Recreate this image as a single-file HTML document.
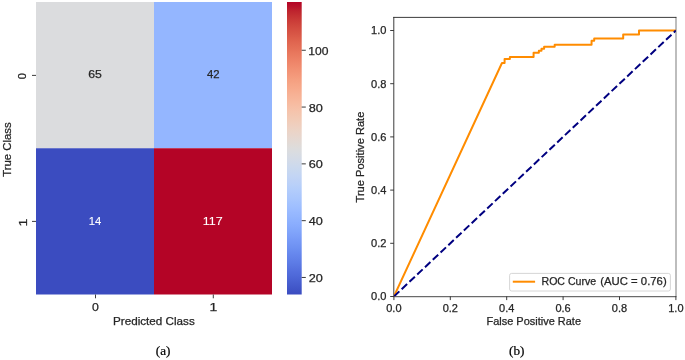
<!DOCTYPE html>
<html><head><meta charset="utf-8"><title>Confusion matrix and ROC curve</title><style>
html,body{margin:0;padding:0;background:#fff;}
body{width:685px;height:360px;overflow:hidden;}
svg{display:block;will-change:transform;}
text{fill:#262626;stroke:#262626;stroke-width:0.25px;}
.w{fill:#fff;stroke:#fff;}
.k{fill:#000;stroke:#000;stroke-width:0.15px;}
</style></head><body>
<svg width="685" height="360" viewBox="0 0 685 360">
<defs>
<linearGradient id="cb" x1="0" y1="1" x2="0" y2="0">
<stop offset="0.0000" stop-color="#3b4cc0"/>
<stop offset="0.0156" stop-color="#3f53c6"/>
<stop offset="0.0312" stop-color="#445acc"/>
<stop offset="0.0469" stop-color="#4961d2"/>
<stop offset="0.0625" stop-color="#4e68d8"/>
<stop offset="0.0781" stop-color="#536edd"/>
<stop offset="0.0938" stop-color="#5875e1"/>
<stop offset="0.1094" stop-color="#5d7ce6"/>
<stop offset="0.1250" stop-color="#6282ea"/>
<stop offset="0.1406" stop-color="#6788ee"/>
<stop offset="0.1562" stop-color="#6c8ff1"/>
<stop offset="0.1719" stop-color="#7295f4"/>
<stop offset="0.1875" stop-color="#779af7"/>
<stop offset="0.2031" stop-color="#7da0f9"/>
<stop offset="0.2188" stop-color="#82a6fb"/>
<stop offset="0.2344" stop-color="#88abfd"/>
<stop offset="0.2500" stop-color="#8db0fe"/>
<stop offset="0.2656" stop-color="#93b5fe"/>
<stop offset="0.2812" stop-color="#98b9ff"/>
<stop offset="0.2969" stop-color="#9ebeff"/>
<stop offset="0.3125" stop-color="#a3c2fe"/>
<stop offset="0.3281" stop-color="#a9c6fd"/>
<stop offset="0.3438" stop-color="#aec9fc"/>
<stop offset="0.3594" stop-color="#b3cdfb"/>
<stop offset="0.3750" stop-color="#b9d0f9"/>
<stop offset="0.3906" stop-color="#bed2f6"/>
<stop offset="0.4062" stop-color="#c3d5f4"/>
<stop offset="0.4219" stop-color="#c7d7f0"/>
<stop offset="0.4375" stop-color="#ccd9ed"/>
<stop offset="0.4531" stop-color="#d1dae9"/>
<stop offset="0.4688" stop-color="#d5dbe5"/>
<stop offset="0.4844" stop-color="#d9dce1"/>
<stop offset="0.5000" stop-color="#dddcdc"/>
<stop offset="0.5156" stop-color="#e1dad6"/>
<stop offset="0.5312" stop-color="#e5d8d1"/>
<stop offset="0.5469" stop-color="#e9d5cb"/>
<stop offset="0.5625" stop-color="#ecd3c5"/>
<stop offset="0.5781" stop-color="#efcfbf"/>
<stop offset="0.5938" stop-color="#f1ccb8"/>
<stop offset="0.6094" stop-color="#f3c8b2"/>
<stop offset="0.6250" stop-color="#f5c4ac"/>
<stop offset="0.6406" stop-color="#f6bfa6"/>
<stop offset="0.6562" stop-color="#f7ba9f"/>
<stop offset="0.6719" stop-color="#f7b599"/>
<stop offset="0.6875" stop-color="#f7b093"/>
<stop offset="0.7031" stop-color="#f7aa8c"/>
<stop offset="0.7188" stop-color="#f6a586"/>
<stop offset="0.7344" stop-color="#f59f80"/>
<stop offset="0.7500" stop-color="#f4987a"/>
<stop offset="0.7656" stop-color="#f29274"/>
<stop offset="0.7812" stop-color="#f08b6e"/>
<stop offset="0.7969" stop-color="#ee8468"/>
<stop offset="0.8125" stop-color="#eb7d62"/>
<stop offset="0.8281" stop-color="#e8765c"/>
<stop offset="0.8438" stop-color="#e46e56"/>
<stop offset="0.8594" stop-color="#e16751"/>
<stop offset="0.8750" stop-color="#dd5f4b"/>
<stop offset="0.8906" stop-color="#d85646"/>
<stop offset="0.9062" stop-color="#d44e41"/>
<stop offset="0.9219" stop-color="#cf453c"/>
<stop offset="0.9375" stop-color="#ca3b37"/>
<stop offset="0.9531" stop-color="#c43032"/>
<stop offset="0.9688" stop-color="#be242e"/>
<stop offset="0.9844" stop-color="#b8122a"/>
<stop offset="1.0000" stop-color="#b40426"/>
</linearGradient>
<clipPath id="ax"><rect x="393.9" y="17.4" width="282.00" height="279.10"/></clipPath>
</defs>
<rect x="0" y="0" width="685" height="360" fill="#fff"/>
<rect x="36.0" y="2.0" width="118.0" height="146.25" fill="#dbdcde"/>
<rect x="154.0" y="2.0" width="118.0" height="146.25" fill="#94b6ff"/>
<rect x="36.0" y="148.25" width="118.0" height="146.25" fill="#3b4cc0"/>
<rect x="154.0" y="148.25" width="118.0" height="146.25" fill="#b40426"/>
<text x="88.20" y="77.90" font-size="11.45" textLength="13.62" lengthAdjust="spacingAndGlyphs" style="font-family:'Liberation Sans', sans-serif;">65</text>
<text x="207.01" y="78.11" font-size="11.45" textLength="12.61" lengthAdjust="spacingAndGlyphs" style="font-family:'Liberation Sans', sans-serif;">42</text>
<text x="88.84" y="225.09" font-size="11.45" textLength="12.56" lengthAdjust="spacingAndGlyphs" style="font-family:'Liberation Sans', sans-serif;fill:#fff;stroke:#fff;stroke-width:0.1px;">14</text>
<text x="202.71" y="225.00" font-size="11.45" textLength="19.95" lengthAdjust="spacingAndGlyphs" style="font-family:'Liberation Sans', sans-serif;fill:#fff;stroke:#fff;stroke-width:0.1px;">117</text>
<g stroke="#262626" stroke-width="0.9">
<line x1="95.5" y1="294.5" x2="95.5" y2="298.3"/>
<line x1="213.3" y1="294.5" x2="213.3" y2="298.3"/>
<line x1="32.0" y1="75.4" x2="36.0" y2="75.4"/>
<line x1="32.0" y1="221.4" x2="36.0" y2="221.4"/>
</g>
<text x="92.10" y="310.95" font-size="11.45" textLength="6.84" lengthAdjust="spacingAndGlyphs" style="font-family:'Liberation Sans', sans-serif;">0</text>
<text x="209.59" y="311.35" font-size="11.45" textLength="7.78" lengthAdjust="spacingAndGlyphs" style="font-family:'Liberation Sans', sans-serif;">1</text>
<text transform="translate(26.19,79.31) rotate(-90)" font-size="11.45" textLength="6.18" lengthAdjust="spacingAndGlyphs" style="font-family:'Liberation Sans', sans-serif;">0</text>
<text transform="translate(27.39,226.45) rotate(-90)" font-size="11.45" textLength="7.86" lengthAdjust="spacingAndGlyphs" style="font-family:'Liberation Sans', sans-serif;">1</text>
<text x="112.99" y="325.00" font-size="10.70" textLength="81.80" lengthAdjust="spacingAndGlyphs" style="font-family:'Liberation Sans', sans-serif;">Predicted Class</text>
<text transform="translate(11.27,176.84) rotate(-90)" font-size="10.70" textLength="54.51" lengthAdjust="spacingAndGlyphs" style="font-family:'Liberation Sans', sans-serif;">True Class</text>
<rect x="287.0" y="2.0" width="14.70" height="292.5" fill="url(#cb)"/>
<g stroke="#262626" stroke-width="0.9">
<line x1="301.7" y1="277.46" x2="305.80" y2="277.46"/>
<line x1="301.7" y1="220.67" x2="305.80" y2="220.67"/>
<line x1="301.7" y1="163.87" x2="305.80" y2="163.87"/>
<line x1="301.7" y1="107.07" x2="305.80" y2="107.07"/>
<line x1="301.7" y1="50.28" x2="305.80" y2="50.28"/>
</g>
<text x="308.80" y="282.06" font-size="11.45" textLength="14.10" lengthAdjust="spacingAndGlyphs" style="font-family:'Liberation Sans', sans-serif;">20</text>
<text x="308.80" y="225.27" font-size="11.45" textLength="14.10" lengthAdjust="spacingAndGlyphs" style="font-family:'Liberation Sans', sans-serif;">40</text>
<text x="308.80" y="168.47" font-size="11.45" textLength="14.10" lengthAdjust="spacingAndGlyphs" style="font-family:'Liberation Sans', sans-serif;">60</text>
<text x="308.80" y="111.67" font-size="11.45" textLength="14.10" lengthAdjust="spacingAndGlyphs" style="font-family:'Liberation Sans', sans-serif;">80</text>
<text x="308.36" y="54.88" font-size="11.45" textLength="20.18" lengthAdjust="spacingAndGlyphs" style="font-family:'Liberation Sans', sans-serif;">100</text>
<g stroke="#262626" stroke-width="0.9" fill="none">
<line x1="393.8" y1="16.95" x2="393.8" y2="296.95"/>
<line x1="676.0" y1="16.95" x2="676.0" y2="296.95" stroke-width="0.7" stroke="#444"/>
<line x1="393.35" y1="17.4" x2="676.35" y2="17.4"/>
<line x1="393.35" y1="296.7" x2="676.35" y2="296.7" stroke="#333"/>
</g>
<g stroke="#262626" stroke-width="0.9">
<line x1="393.90" y1="296.5" x2="393.90" y2="300.1"/>
<line x1="390.20" y1="296.50" x2="393.8" y2="296.50"/>
<line x1="450.30" y1="296.5" x2="450.30" y2="300.1"/>
<line x1="390.20" y1="243.30" x2="393.8" y2="243.30"/>
<line x1="506.70" y1="296.5" x2="506.70" y2="300.1"/>
<line x1="390.20" y1="190.10" x2="393.8" y2="190.10"/>
<line x1="563.10" y1="296.5" x2="563.10" y2="300.1"/>
<line x1="390.20" y1="136.90" x2="393.8" y2="136.90"/>
<line x1="619.50" y1="296.5" x2="619.50" y2="300.1"/>
<line x1="390.20" y1="83.70" x2="393.8" y2="83.70"/>
<line x1="675.90" y1="296.5" x2="675.90" y2="300.1"/>
<line x1="390.20" y1="30.50" x2="393.8" y2="30.50"/>
</g>
<text x="393.90" y="311.75" font-size="10.60" textLength="15.30" lengthAdjust="spacingAndGlyphs" text-anchor="middle" style="font-family:'Liberation Sans', sans-serif;">0.0</text>
<text x="386.50" y="300.40" font-size="10.60" textLength="15.40" lengthAdjust="spacingAndGlyphs" text-anchor="end" style="font-family:'Liberation Sans', sans-serif;">0.0</text>
<text x="450.30" y="311.75" font-size="10.60" textLength="15.30" lengthAdjust="spacingAndGlyphs" text-anchor="middle" style="font-family:'Liberation Sans', sans-serif;">0.2</text>
<text x="386.50" y="247.20" font-size="10.60" textLength="15.40" lengthAdjust="spacingAndGlyphs" text-anchor="end" style="font-family:'Liberation Sans', sans-serif;">0.2</text>
<text x="506.70" y="311.75" font-size="10.60" textLength="15.30" lengthAdjust="spacingAndGlyphs" text-anchor="middle" style="font-family:'Liberation Sans', sans-serif;">0.4</text>
<text x="386.50" y="194.00" font-size="10.60" textLength="15.40" lengthAdjust="spacingAndGlyphs" text-anchor="end" style="font-family:'Liberation Sans', sans-serif;">0.4</text>
<text x="563.10" y="311.75" font-size="10.60" textLength="15.30" lengthAdjust="spacingAndGlyphs" text-anchor="middle" style="font-family:'Liberation Sans', sans-serif;">0.6</text>
<text x="386.50" y="140.80" font-size="10.60" textLength="15.40" lengthAdjust="spacingAndGlyphs" text-anchor="end" style="font-family:'Liberation Sans', sans-serif;">0.6</text>
<text x="619.50" y="311.75" font-size="10.60" textLength="15.30" lengthAdjust="spacingAndGlyphs" text-anchor="middle" style="font-family:'Liberation Sans', sans-serif;">0.8</text>
<text x="386.50" y="87.60" font-size="10.60" textLength="15.40" lengthAdjust="spacingAndGlyphs" text-anchor="end" style="font-family:'Liberation Sans', sans-serif;">0.8</text>
<text x="675.90" y="311.75" font-size="10.60" textLength="15.30" lengthAdjust="spacingAndGlyphs" text-anchor="middle" style="font-family:'Liberation Sans', sans-serif;">1.0</text>
<text x="386.50" y="34.40" font-size="10.60" textLength="15.40" lengthAdjust="spacingAndGlyphs" text-anchor="end" style="font-family:'Liberation Sans', sans-serif;">1.0</text>
<text x="486.47" y="325.24" font-size="10.30" textLength="94.54" lengthAdjust="spacingAndGlyphs" style="font-family:'Liberation Sans', sans-serif;">False Positive Rate</text>
<text transform="translate(363.61,202.44) rotate(-90)" font-size="10.30" textLength="90.76" lengthAdjust="spacingAndGlyphs" style="font-family:'Liberation Sans', sans-serif;">True Positive Rate</text>
<path clip-path="url(#ax)" d="M393.90,296.50 L501.96,62.99 L504.59,62.99 L504.59,58.93 L509.86,58.93 L509.86,56.90 L533.58,56.90 L533.58,52.84 L538.85,52.84 L538.85,50.81 L541.49,50.81 L541.49,48.77 L544.12,48.77 L544.12,46.74 L554.67,46.74 L554.67,44.71 L591.56,44.71 L591.56,40.65 L594.20,40.65 L594.20,38.62 L623.19,38.62 L623.19,34.56 L639.00,34.56 L639.00,30.50 L675.90,30.50" fill="none" stroke="#ff8c00" stroke-width="2" stroke-linejoin="round" stroke-linecap="square"/>
<line clip-path="url(#ax)" x1="393.9" y1="296.5" x2="675.9" y2="30.5" stroke="#000080" stroke-width="2" stroke-dasharray="7.46 3.23"/>
<rect x="509.6" y="273.4" width="160.8" height="17.6" rx="2" ry="2" fill="#fff" fill-opacity="0.8" stroke="#cccccc" stroke-width="0.8"/>
<line x1="512.8" y1="281.7" x2="535.1" y2="281.7" stroke="#ff8c00" stroke-width="2"/>
<text x="541.52" y="285.10" font-size="10.50" textLength="54.62" lengthAdjust="spacingAndGlyphs" style="font-family:'Liberation Sans', sans-serif;">ROC Curve</text>
<text x="600.23" y="285.17" font-size="10.50" textLength="66.46" lengthAdjust="spacingAndGlyphs" style="font-family:'Liberation Sans', sans-serif;">(AUC = 0.76)</text>
<text x="163.10" y="355.40" font-size="12.50" textLength="14.60" lengthAdjust="spacingAndGlyphs" text-anchor="middle" style="font-family:'Liberation Serif', serif;fill:#000;stroke:#000;stroke-width:0.2px;">(a)</text>
<text x="516.70" y="355.40" font-size="12.50" textLength="15.40" lengthAdjust="spacingAndGlyphs" text-anchor="middle" style="font-family:'Liberation Serif', serif;fill:#000;stroke:#000;stroke-width:0.2px;">(b)</text>
</svg>
</body></html>
